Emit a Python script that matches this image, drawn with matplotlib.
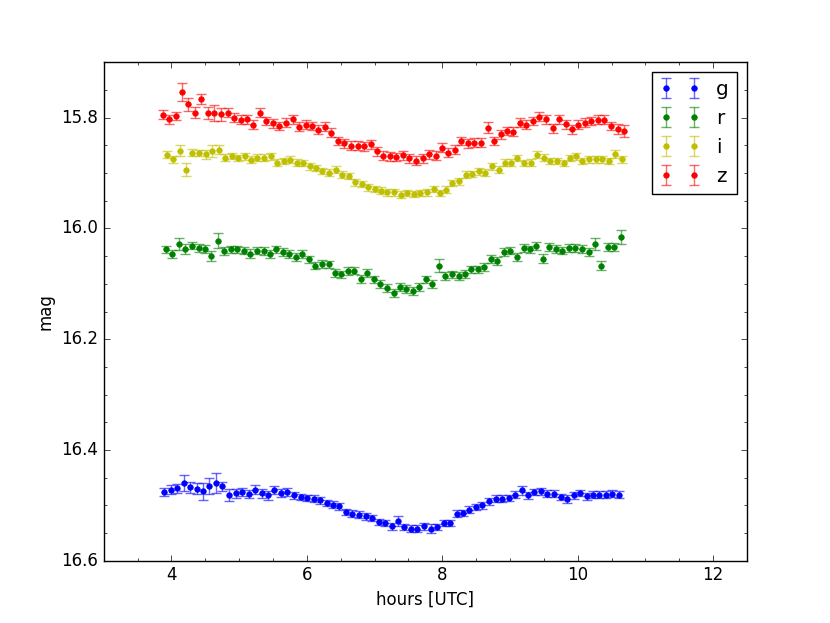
import numpy as np
import matplotlib
matplotlib.use("Agg")
import matplotlib.pyplot as plt
from matplotlib.ticker import MultipleLocator, AutoMinorLocator


# ============================================================
# DATA
# ============================================================

t_g = [3.89, 3.99, 4.08, 4.18, 4.27, 4.37, 4.47, 4.56, 4.66, 4.75, 4.85, 4.95,
       5.04, 5.14, 5.23, 5.33, 5.43, 5.52, 5.62, 5.71, 5.81, 5.91, 6.00, 6.10,
       6.19, 6.29, 6.39, 6.48, 6.58, 6.67, 6.77, 6.87, 6.96, 7.06, 7.15, 7.25,
       7.35, 7.44, 7.54, 7.63, 7.73, 7.83, 7.92, 8.02, 8.11, 8.21, 8.31, 8.40,
       8.50, 8.59, 8.69, 8.79, 8.88, 8.98, 9.07, 9.17, 9.27, 9.36, 9.46, 9.55,
       9.65, 9.75, 9.84, 9.94, 10.03, 10.13, 10.23, 10.32, 10.42, 10.51, 10.61]
mag_g = [16.476, 16.472, 16.469, 16.460, 16.467, 16.470, 16.475, 16.465, 16.460,
         16.466, 16.481, 16.478, 16.476, 16.479, 16.472, 16.478, 16.482, 16.472,
         16.478, 16.476, 16.482, 16.485, 16.487, 16.488, 16.491, 16.496, 16.499,
         16.502, 16.512, 16.515, 16.517, 16.520, 16.523, 16.530, 16.532, 16.538,
         16.529, 16.539, 16.542, 16.542, 16.538, 16.542, 16.539, 16.532, 16.532,
         16.515, 16.514, 16.508, 16.503, 16.500, 16.493, 16.488, 16.488, 16.487,
         16.481, 16.473, 16.482, 16.476, 16.475, 16.479, 16.479, 16.485, 16.488,
         16.482, 16.478, 16.484, 16.481, 16.481, 16.481, 16.479, 16.481]
err_g = [0.007, 0.008, 0.008, 0.014, 0.010, 0.010, 0.016, 0.014, 0.018, 0.009,
         0.011, 0.008, 0.008, 0.007, 0.008, 0.008, 0.008, 0.007, 0.007, 0.007,
         0.006, 0.006, 0.006, 0.006, 0.006, 0.006, 0.006, 0.006, 0.006, 0.006,
         0.006, 0.006, 0.006, 0.006, 0.006, 0.006, 0.009, 0.006, 0.007, 0.006,
         0.006, 0.008, 0.006, 0.006, 0.006, 0.006, 0.006, 0.006, 0.006, 0.006,
         0.006, 0.006, 0.006, 0.006, 0.006, 0.008, 0.006, 0.006, 0.006, 0.006,
         0.006, 0.006, 0.007, 0.006, 0.006, 0.006, 0.006, 0.006, 0.006, 0.006,
         0.006]

t_r = [3.92, 4.01, 4.11, 4.20, 4.30, 4.40, 4.49, 4.59, 4.68, 4.78, 4.88, 4.97,
       5.07, 5.16, 5.26, 5.36, 5.45, 5.55, 5.64, 5.74, 5.84, 5.93, 6.03, 6.12,
       6.22, 6.32, 6.41, 6.51, 6.60, 6.70, 6.80, 6.89, 6.99, 7.08, 7.18, 7.28,
       7.37, 7.47, 7.56, 7.66, 7.76, 7.85, 7.95, 8.04, 8.14, 8.24, 8.33, 8.43,
       8.52, 8.62, 8.72, 8.81, 8.91, 9.00, 9.10, 9.20, 9.29, 9.39, 9.48, 9.58,
       9.68, 9.77, 9.87, 9.96, 10.06, 10.16, 10.25, 10.35, 10.44, 10.54, 10.64]
mag_r = [16.038, 16.046, 16.028, 16.037, 16.031, 16.035, 16.037, 16.050, 16.022,
         16.041, 16.038, 16.038, 16.040, 16.046, 16.040, 16.041, 16.046, 16.038,
         16.043, 16.046, 16.052, 16.046, 16.056, 16.067, 16.064, 16.065, 16.080,
         16.083, 16.077, 16.076, 16.091, 16.080, 16.092, 16.101, 16.107, 16.116,
         16.106, 16.110, 16.113, 16.106, 16.092, 16.101, 16.067, 16.086, 16.083,
         16.086, 16.082, 16.074, 16.074, 16.070, 16.055, 16.059, 16.043, 16.040,
         16.052, 16.035, 16.038, 16.032, 16.055, 16.034, 16.037, 16.040, 16.035,
         16.035, 16.037, 16.043, 16.028, 16.067, 16.034, 16.034, 16.016]
err_r = [0.007, 0.007, 0.011, 0.009, 0.007, 0.007, 0.007, 0.009, 0.013, 0.007,
         0.007, 0.007, 0.007, 0.008, 0.007, 0.007, 0.007, 0.007, 0.007, 0.007,
         0.007, 0.007, 0.007, 0.007, 0.007, 0.007, 0.007, 0.007, 0.007, 0.007,
         0.007, 0.007, 0.007, 0.007, 0.007, 0.007, 0.007, 0.007, 0.007, 0.007,
         0.007, 0.007, 0.012, 0.007, 0.007, 0.007, 0.007, 0.007, 0.007, 0.007,
         0.007, 0.007, 0.007, 0.007, 0.007, 0.007, 0.007, 0.007, 0.008, 0.007,
         0.007, 0.007, 0.007, 0.007, 0.007, 0.007, 0.011, 0.008, 0.007, 0.007,
         0.013]

t_i = [3.93, 4.03, 4.12, 4.22, 4.31, 4.41, 4.51, 4.60, 4.70, 4.79, 4.89, 4.99,
       5.08, 5.18, 5.27, 5.37, 5.47, 5.56, 5.66, 5.75, 5.85, 5.95, 6.04, 6.14,
       6.23, 6.33, 6.43, 6.52, 6.62, 6.71, 6.81, 6.91, 7.00, 7.10, 7.19, 7.29,
       7.39, 7.48, 7.58, 7.67, 7.77, 7.87, 7.96, 8.06, 8.15, 8.25, 8.35, 8.44,
       8.54, 8.63, 8.73, 8.83, 8.92, 9.02, 9.11, 9.21, 9.31, 9.40, 9.50, 9.59,
       9.69, 9.79, 9.88, 9.98, 10.07, 10.17, 10.27, 10.36, 10.46, 10.55, 10.65]
mag_i = [15.867, 15.875, 15.860, 15.894, 15.863, 15.864, 15.866, 15.860, 15.858,
         15.872, 15.869, 15.873, 15.870, 15.876, 15.872, 15.872, 15.870, 15.881,
         15.878, 15.876, 15.881, 15.882, 15.888, 15.891, 15.896, 15.899, 15.894,
         15.903, 15.905, 15.917, 15.920, 15.926, 15.929, 15.932, 15.935, 15.935,
         15.939, 15.936, 15.938, 15.936, 15.935, 15.929, 15.936, 15.930, 15.918,
         15.915, 15.903, 15.902, 15.897, 15.899, 15.888, 15.894, 15.881, 15.881,
         15.873, 15.882, 15.881, 15.867, 15.872, 15.878, 15.878, 15.882, 15.873,
         15.870, 15.878, 15.875, 15.875, 15.875, 15.878, 15.866, 15.875]
err_i = [0.006, 0.006, 0.010, 0.012, 0.006, 0.006, 0.008, 0.011, 0.008, 0.006,
         0.006, 0.006, 0.006, 0.006, 0.006, 0.006, 0.006, 0.006, 0.006, 0.006,
         0.006, 0.006, 0.006, 0.006, 0.006, 0.006, 0.006, 0.006, 0.006, 0.006,
         0.006, 0.006, 0.006, 0.006, 0.006, 0.006, 0.006, 0.006, 0.006, 0.006,
         0.006, 0.006, 0.006, 0.006, 0.006, 0.006, 0.006, 0.006, 0.006, 0.006,
         0.006, 0.006, 0.006, 0.006, 0.006, 0.006, 0.006, 0.006, 0.006, 0.006,
         0.006, 0.006, 0.006, 0.006, 0.006, 0.006, 0.006, 0.006, 0.006, 0.007,
         0.006]

t_z = [3.87, 3.96, 4.06, 4.15, 4.25, 4.35, 4.44, 4.54, 4.63, 4.73, 4.83, 4.92,
       5.02, 5.11, 5.21, 5.31, 5.40, 5.50, 5.59, 5.69, 5.79, 5.88, 5.98, 6.07,
       6.17, 6.27, 6.36, 6.46, 6.55, 6.65, 6.75, 6.84, 6.94, 7.03, 7.13, 7.23,
       7.32, 7.42, 7.51, 7.61, 7.71, 7.80, 7.90, 7.99, 8.09, 8.19, 8.28, 8.38,
       8.47, 8.57, 8.67, 8.76, 8.86, 8.95, 9.05, 9.15, 9.24, 9.34, 9.43, 9.53,
       9.63, 9.72, 9.82, 9.91, 10.01, 10.11, 10.20, 10.30, 10.39, 10.49, 10.59,
       10.68]
mag_z = [15.795, 15.803, 15.797, 15.753, 15.776, 15.791, 15.767, 15.792, 15.792,
         15.794, 15.791, 15.800, 15.804, 15.803, 15.813, 15.791, 15.806, 15.810,
         15.815, 15.809, 15.803, 15.816, 15.813, 15.815, 15.822, 15.816, 15.827,
         15.842, 15.846, 15.851, 15.851, 15.852, 15.848, 15.861, 15.869, 15.870,
         15.871, 15.868, 15.873, 15.878, 15.873, 15.866, 15.869, 15.854, 15.863,
         15.858, 15.842, 15.846, 15.845, 15.845, 15.818, 15.842, 15.830, 15.824,
         15.825, 15.809, 15.813, 15.806, 15.798, 15.803, 15.819, 15.803, 15.812,
         15.821, 15.813, 15.809, 15.806, 15.804, 15.804, 15.815, 15.821, 15.824]
err_z = [0.008, 0.008, 0.008, 0.016, 0.012, 0.010, 0.009, 0.011, 0.014, 0.012,
         0.008, 0.008, 0.008, 0.008, 0.008, 0.008, 0.008, 0.008, 0.008, 0.008,
         0.008, 0.008, 0.008, 0.008, 0.008, 0.008, 0.008, 0.008, 0.008, 0.008,
         0.008, 0.008, 0.008, 0.008, 0.008, 0.008, 0.008, 0.008, 0.008, 0.008,
         0.008, 0.008, 0.008, 0.008, 0.008, 0.008, 0.008, 0.008, 0.008, 0.008,
         0.010, 0.008, 0.008, 0.008, 0.008, 0.008, 0.008, 0.008, 0.008, 0.008,
         0.008, 0.008, 0.008, 0.008, 0.008, 0.008, 0.008, 0.008, 0.008, 0.008,
         0.009, 0.010]

bands = [
    ("g", "b", t_g, mag_g, err_g),
    ("r", "g", t_r, mag_r, err_r),
    ("i", "y", t_i, mag_i, err_i),
    ("z", "r", t_z, mag_z, err_z),
]


# ============================================================
# PLOT
# ============================================================

plt.style.use("classic")

fig = plt.figure(figsize=(8.3, 6.23), dpi=100)
ax = fig.add_subplot(111)

for label, color, t, mag, err in bands:
    eb = ax.errorbar(
        t, mag, yerr=err,
        fmt="o",
        color=color,
        ecolor=color,
        markersize=4,
        markeredgecolor=color,
        capsize=3.5,
        capthick=1,
        elinewidth=1,
        label=label
    )
    for cap in eb[1]:
        cap.set_alpha(0.6)
        cap.set_markeredgewidth(1)
    for bar in eb[2]:
        bar.set_alpha(0.6)

ax.set_xlim(3, 12.5)
ax.set_ylim(16.6, 15.7)
ax.xaxis.set_major_locator(MultipleLocator(2))
ax.yaxis.set_major_locator(MultipleLocator(0.2))
ax.xaxis.set_minor_locator(AutoMinorLocator(4))
ax.yaxis.set_minor_locator(AutoMinorLocator(4))
ax.yaxis.set_major_formatter(plt.FormatStrFormatter("%.1f"))

ax.set_xlabel("hours [UTC]")
ax.set_ylabel("mag")
ax.legend(loc="upper right", numpoints=2)

plt.savefig("out.png", dpi=100)
